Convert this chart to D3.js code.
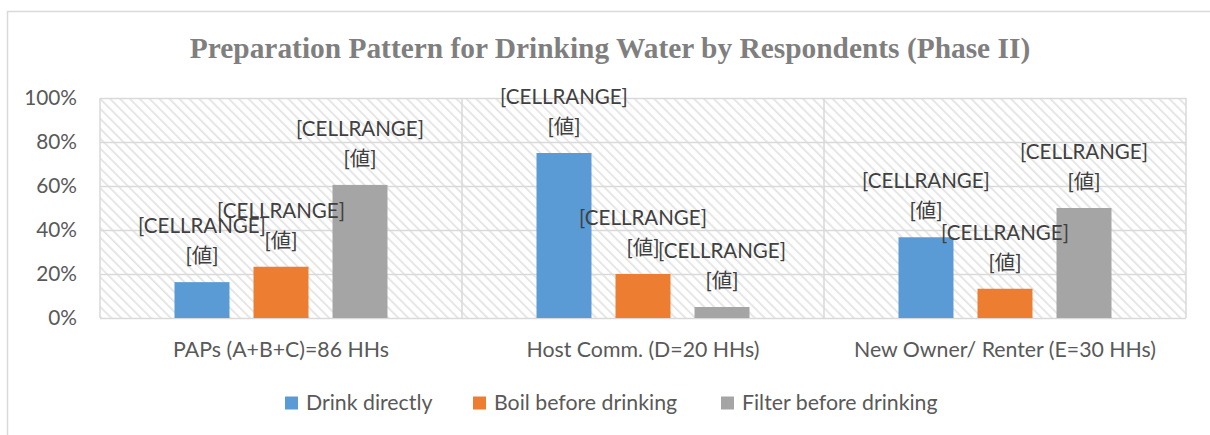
<!DOCTYPE html>
<html>
<head>
<meta charset="utf-8">
<script src="https://cdn.jsdelivr.net/npm/d3@7"></script>
<style>
  body { margin: 0; background: #fff; }
  svg { display: block; }
</style>
</head>
<body>
<script>
const width = 1210;
const height = 435;

const categories = ["PAPs (A+B+C)=86 HHs", "Host Comm. (D=20 HHs)", "New Owner/ Renter (E=30 HHs)"];
const seriesNames = ["Drink directly", "Boil before drinking", "Filter before drinking"];
const drinkDirectly = [16.3, 75, 36.7];
const boilBefore = [23.3, 20, 13.3];
const filterBefore = [60.5, 5, 50];
const yTicks = [0, 20, 40, 60, 80, 100];
const colors = ["#5b9bd5", "#ed7d31", "#a5a5a5"];

const series = [drinkDirectly, boilBefore, filterBefore];
const font = "Lato, 'Open Sans', sans-serif";

const svg = d3.select("body").append("svg")
  .attr("width", width)
  .attr("height", height);

// hatch pattern for the plot area
const defs = svg.append("defs");
const pat = defs.append("pattern")
  .attr("id", "hatch")
  .attr("patternUnits", "userSpaceOnUse")
  .attr("width", 7)
  .attr("height", 7)
  .attr("patternTransform", "rotate(-45)");
pat.append("line")
  .attr("x1", 0).attr("y1", 0)
  .attr("x2", 0).attr("y2", 7)
  .attr("stroke", "#e3e3e3")
  .attr("stroke-width", 3.5);

// chart frame
svg.append("rect")
  .attr("x", 7.5).attr("y", 11.5)
  .attr("width", width + 10).attr("height", height + 10)
  .attr("fill", "none")
  .attr("stroke", "#d9d9d9")
  .attr("stroke-width", 1.5);

const margin = {left: 100, right: 24, top: 98, bottom: 117};
const x0 = d3.scaleBand()
  .domain(categories)
  .range([margin.left, width - margin.right]);
const x1 = d3.scaleBand()
  .domain(d3.range(3))
  .range([0, x0.bandwidth()])
  .paddingInner(0.304)
  .paddingOuter(0.943);
const y = d3.scaleLinear()
  .domain([0, 100])
  .range([height - margin.bottom, margin.top]);

svg.append("text")
  .attr("x", 610)
  .attr("y", 58)
  .attr("text-anchor", "middle")
  .attr("font-family", "'Liberation Serif', 'Times New Roman', serif")
  .attr("font-weight", "bold")
  .attr("font-size", 29.4)
  .attr("fill", "#7f7f7f")
  .text("Preparation Pattern for Drinking Water by Respondents (Phase II)");

// plot background
svg.append("rect")
  .attr("x", margin.left)
  .attr("y", margin.top)
  .attr("width", width - margin.left - margin.right)
  .attr("height", y(0) - y(100))
  .attr("fill", "url(#hatch)");

// gridlines
const yAxis = d3.axisLeft(y)
  .tickValues(yTicks)
  .tickSize(-(width - margin.left - margin.right))
  .tickPadding(23)
  .tickFormat(d => d + "%");
const gy = svg.append("g")
  .attr("transform", `translate(${margin.left},0)`)
  .call(yAxis);
gy.select(".domain").remove();
gy.selectAll(".tick line").attr("stroke", "#d9d9d9").attr("stroke-width", 1.5);
gy.selectAll(".tick text")
  .attr("font-family", font)
  .attr("font-size", 20.8)
  .attr("fill", "#595959");

// category separators
svg.append("g")
  .selectAll("line")
  .data(categories.concat(["end"]))
  .join("line")
  .attr("x1", (d, i) => i < 3 ? x0(d) : x0(categories[2]) + x0.bandwidth())
  .attr("x2", (d, i) => i < 3 ? x0(d) : x0(categories[2]) + x0.bandwidth())
  .attr("y1", y(100))
  .attr("y2", y(0))
  .attr("stroke", "#d9d9d9")
  .attr("stroke-width", 1.5);

// bars
const groups = svg.append("g")
  .selectAll("g")
  .data(categories)
  .join("g")
  .attr("transform", d => `translate(${x0(d)},0)`);

groups.selectAll("rect")
  .data((d, ci) => series.map((s, si) => ({si, v: s[ci]})))
  .join("rect")
  .attr("x", d => x1(d.si))
  .attr("width", x1.bandwidth())
  .attr("y", d => y(d.v))
  .attr("height", d => y(0) - y(d.v))
  .attr("fill", d => colors[d.si]);

// data labels
const labels = groups.selectAll("g.lbl")
  .data((d, ci) => series.map((s, si) => ({si, v: s[ci]})))
  .join("g")
  .attr("class", "lbl")
  .attr("transform", d => `translate(${x1(d.si) + x1.bandwidth() / 2},${y(d.v)})`);
labels.append("text")
  .attr("y", -56)
  .attr("dy", "0.35em")
  .text("[CELLRANGE]");
labels.append("text")
  .attr("y", -26)
  .attr("dy", "0.35em")
  .text("[値]");
labels.selectAll("text")
  .attr("text-anchor", "middle")
  .attr("font-family", "Lato, 'Noto Sans CJK JP', sans-serif")
  .attr("font-size", 20.5)
  .attr("fill", "#404040");

// category axis labels
svg.append("g")
  .selectAll("text")
  .data(categories)
  .join("text")
  .attr("x", d => x0(d) + x0.bandwidth() / 2)
  .attr("y", 350)
  .attr("dy", "0.35em")
  .attr("text-anchor", "middle")
  .attr("font-family", font)
  .attr("font-size", 21.3)
  .attr("fill", "#595959")
  .text(d => d);

// legend
const legendX = [285, 473, 721];
const legend = svg.append("g")
  .selectAll("g")
  .data(seriesNames)
  .join("g")
  .attr("transform", (d, i) => `translate(${legendX[i]},403)`);
legend.append("rect")
  .attr("x", 0).attr("y", -6.5)
  .attr("width", 13).attr("height", 13)
  .attr("fill", (d, i) => colors[i]);
legend.append("text")
  .attr("x", 21)
  .attr("dy", "0.35em")
  .attr("font-family", font)
  .attr("font-size", 21.3)
  .attr("fill", "#595959")
  .text(d => d);
</script>
</body>
</html>
